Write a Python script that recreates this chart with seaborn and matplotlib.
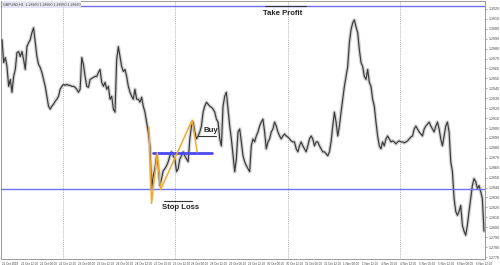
import numpy as np
import pandas as pd
import matplotlib
matplotlib.use("Agg")
import matplotlib.pyplot as plt
import seaborn as sns

# ---- data ----
close = [
 1.2989,1.2966,1.2971,1.2962,1.2942,1.2949,1.2936,1.2952,1.2959,1.2976,
 1.2977,1.2972,1.2977,1.2969,1.2959,1.2982,1.2986,1.2989,1.2996,1.3001,
 1.2986,1.2972,1.2964,1.2961,1.2956,1.2949,1.2942,1.2932,1.2922,1.2919,
 1.2922,1.2924,1.2927,1.2929,1.2932,1.2939,1.2942,1.2944,1.2943,1.2944,
 1.2943,1.2943,1.2942,1.2942,1.2941,1.2939,1.2936,1.2939,1.2971,1.2964,
 1.2952,1.2942,1.2941,1.2949,1.2950,1.2951,1.2952,1.2952,1.2956,1.2959,
 1.2946,1.2942,1.2946,1.2939,1.2942,1.2929,1.2932,1.2919,1.2916,1.2969,
 1.2982,1.2972,1.2962,1.2957,1.2959,1.2952,1.2942,1.2936,1.2932,1.2929,
 1.2939,1.2929,1.2929,1.2926,1.2931,1.2922,1.2916,1.2906,1.2896,1.2882,
 1.2839,1.2852,1.2859,1.2872,1.2862,1.2842,1.2849,1.2857,1.2859,1.2862,
 1.2866,1.2872,1.2876,1.2872,1.2869,1.2856,1.2859,1.2869,1.2872,1.2876,
 1.2872,1.2869,1.2866,1.2889,1.2902,1.2906,1.2896,1.2889,1.2892,1.2896,
 1.2902,1.2916,1.2922,1.2926,1.2924,1.2922,1.2921,1.2919,1.2916,1.2909,
 1.2906,1.2889,1.2882,1.2922,1.2932,1.2936,1.2919,1.2902,1.2889,1.2872,
 1.2856,1.2869,1.2896,1.2899,1.2886,1.2872,1.2866,1.2862,1.2859,1.2856,
 1.2882,1.2889,1.2886,1.2892,1.2896,1.2902,1.2906,1.2909,1.2896,1.2879,
 1.2886,1.2889,1.2896,1.2899,1.2906,1.2902,1.2896,1.2892,1.2889,1.2892,
 1.2894,1.2892,1.2891,1.2889,1.2887,1.2886,1.2886,1.2879,1.2876,1.2882,
 1.2886,1.2882,1.2879,1.2876,1.2882,1.2889,1.2892,1.2889,1.2882,1.2886,
 1.2886,1.2882,1.2879,1.2876,1.2876,1.2874,1.2872,1.2876,1.2886,1.2902,
 1.2916,1.2906,1.2892,1.2902,1.2916,1.2929,1.2942,1.2952,1.2962,1.2986,
 1.2999,1.3006,1.3009,1.3002,1.2996,1.2979,1.2966,1.2962,1.2952,1.2949,
 1.2959,1.2946,1.2942,1.2929,1.2922,1.2906,1.2892,1.2882,1.2879,1.2886,
 1.2882,1.2889,1.2892,1.2889,1.2886,1.2887,1.2886,1.2884,1.2886,1.2887,
 1.2886,1.2886,1.2885,1.2886,1.2887,1.2889,1.2891,1.2892,1.2899,1.2902,
 1.2899,1.2896,1.2894,1.2892,1.2899,1.2902,1.2904,1.2906,1.2902,1.2899,
 1.2896,1.2902,1.2906,1.2899,1.2889,1.2882,1.2892,1.2902,1.2906,1.2896,
 1.2866,1.2856,1.2829,1.2816,1.2812,1.2816,1.2822,1.2802,1.2796,1.2792,
 1.2802,1.2816,1.2829,1.2842,1.2849,1.2846,1.2839,1.2842,1.2836,1.2829,
 1.2796,
]

pattern_bar = [88.4, 90.0, 93.4, 95.4, 114.4, 117.4]
pattern_price = [1.2901, 1.2824, 1.2875, 1.2838, 1.2908, 1.2876]

take_profit = 1.3023
stop_loss = 1.2839
buy_price = 1.2875
buy_start, buy_end = 90.6, 126.2

price_ticks = [round(1.2770 + 0.0010 * k, 4) for k in range(26)]
time_labels = [
 "21 Oct 2019", "21 Oct 12:00", "22 Oct 00:00", "22 Oct 12:00", "23 Oct 00:00",
 "23 Oct 12:00", "24 Oct 00:00", "24 Oct 12:00", "25 Oct 00:00", "25 Oct 12:00",
 "28 Oct 00:00", "28 Oct 12:00", "29 Oct 00:00", "29 Oct 12:00", "30 Oct 00:00",
 "30 Oct 12:00", "31 Oct 00:00", "31 Oct 12:00", "1 Nov 00:00", "1 Nov 12:00",
 "4 Nov 00:00", "4 Nov 12:00", "5 Nov 00:00", "5 Nov 12:00", "6 Nov 00:00",
 "6 Nov 12:00",
]

df = pd.DataFrame({"bar": np.arange(len(close)), "close": close})

sns.set_theme(style="white")
plt.rcParams["font.family"] = ["Liberation Sans", "DejaVu Sans"]

fig = plt.figure(figsize=(5.0, 2.65), dpi=100)
ax = fig.add_axes([1/500, 6/265, 484/500, 258/265])
ax.set_facecolor("white")

n = len(close)
ax.set_xlim(-0.6, n - 0.4)
ax.set_ylim(1.2768, 1.3028)

# vertical dotted grid lines
for gx in [36.6, 104.2, 172.0, 239.6]:
    ax.axvline(gx, color="#9a9a9a", lw=0.6, ls=(0, (1, 1.5)), zorder=0)

# price series: light haze + dark line
sns.lineplot(data=df, x="bar", y="close", ax=ax, color="#d2d2d2", lw=2.6,
             legend=False, zorder=2)
sns.lineplot(data=df, x="bar", y="close", ax=ax, color="#3a3a3a", lw=0.85,
             legend=False, zorder=3)

# horizontal levels
ax.axhline(take_profit, color="#6f6ff2", lw=1.0, zorder=4)
ax.axhline(stop_loss, color="#6f6ff2", lw=1.0, zorder=4)
ax.plot([buy_start, buy_end], [buy_price, buy_price], color="#4a4aee", lw=2.0, zorder=5)

# harmonic pattern
ax.plot(pattern_bar, pattern_price, color="#f4a829", lw=1.1, zorder=6)

# annotations
ax.plot([158, 183], [take_profit - 0.00003, take_profit - 0.00003], color="#333333", lw=0.8, zorder=6)
ax.text(169, 1.30155, "Take Profit", ha="center", va="center", fontsize=5.6,
        fontweight="bold", color="#222222", zorder=7)
ax.plot([97.6, 114.6], [1.28265, 1.28265], color="#333333", lw=0.8, zorder=6)
ax.text(107.5, 1.28195, "Stop Loss", ha="center", va="center", fontsize=5.6,
        fontweight="bold", color="#222222", zorder=7)
ax.plot([118, 129], [1.2892, 1.2892], color="#333333", lw=0.8, zorder=6)
ax.text(125.5, 1.28975, "Buy", ha="center", va="center", fontsize=5.6,
        fontweight="bold", color="#222222", zorder=7)

ax.text(0.004, 0.995, "GBPUSD,H1  1.28960 1.28990 1.28950 1.28960", transform=ax.transAxes,
        ha="left", va="top", fontsize=2.6, color="#333333", zorder=8,
        bbox=dict(facecolor="#e8e8f4", edgecolor="none", pad=0.6))

# axes
ax.yaxis.tick_right()
ax.set_yticks(price_ticks)
ax.set_yticklabels([f"{t:.4f}" for t in price_ticks], fontsize=2.6, color="#444444")
ax.set_xticks([11.4 * k for k in range(len(time_labels))])
ax.set_xticklabels(time_labels, fontsize=2.2, color="#444444", ha="left")
ax.tick_params(axis="y", length=1.5, width=0.4, pad=1, colors="#666666", labelcolor="#444444")
ax.tick_params(axis="x", length=1.5, width=0.4, pad=0.5, colors="#666666", labelcolor="#444444")
ax.set_xlabel("")
ax.set_ylabel("")
for s in ax.spines.values():
    s.set_color("#9a9a9a")
    s.set_linewidth(0.7)

fig.savefig("out.png", dpi=100, facecolor="white")
